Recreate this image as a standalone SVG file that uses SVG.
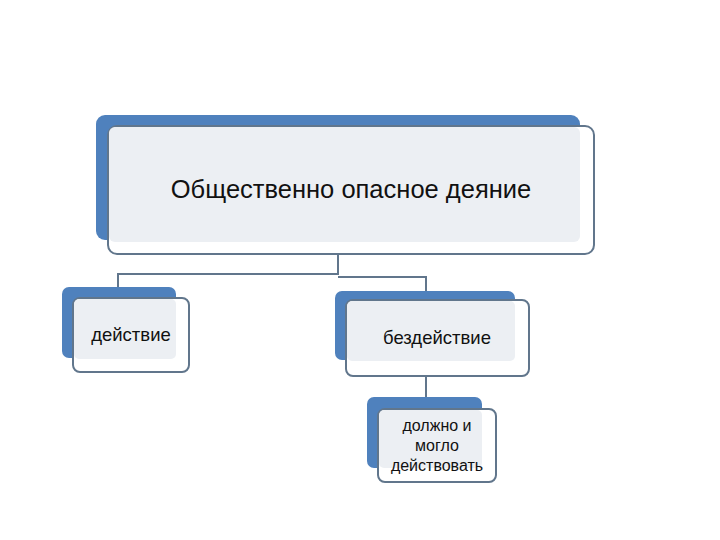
<svg xmlns="http://www.w3.org/2000/svg" width="720" height="540" viewBox="0 0 720 540">
<style>
.back{fill:#4F81BD;}
.front{fill:#FFFFFF;stroke:#61768C;stroke-width:2;}
.inner{fill:#ECEFF3;}
.t{font-family:"Liberation Sans",Arial,sans-serif;fill:#111;text-anchor:middle;}
.conn{fill:none;stroke:#61768C;stroke-width:2;}
</style>
<rect width="720" height="540" fill="#FFFFFF"/>
<g id="connectors">
<path class="conn" d="M338,254 V275 M338,274 H118 V290 M338,277 H426 V300"/>
<path class="conn" d="M426,376 V409"/>
</g>
<g id="node-main">
<rect class="back" x="96" y="115" width="484" height="125" rx="9"/>
<rect class="front" x="108" y="126" width="486" height="128" rx="9"/>
<rect class="inner" x="109" y="127" width="471" height="115" rx="6"/>
<text class="t" x="351" y="198" font-size="25.5">Общественно опасное деяние</text>
</g>
<g id="node-action">
<rect class="back" x="62" y="287" width="114" height="71" rx="7"/>
<rect class="front" x="73" y="298" width="116" height="74" rx="7"/>
<rect class="inner" x="74" y="299" width="102" height="60" rx="5"/>
<text class="t" x="131" y="341" font-size="18.5">действие</text>
</g>
<g id="node-inaction">
<rect class="back" x="335" y="291" width="180" height="69" rx="7"/>
<rect class="front" x="346" y="300" width="183" height="76" rx="7"/>
<rect class="inner" x="347" y="301" width="168" height="60" rx="5"/>
<text class="t" x="437" y="344" font-size="18.5">бездействие</text>
</g>
<g id="node-could">
<rect class="back" x="367" y="397" width="115" height="71" rx="7"/>
<rect class="front" x="378" y="409" width="118" height="73" rx="7"/>
<rect class="inner" x="379" y="410" width="103" height="58" rx="5"/>
<text class="t" x="437" y="431" font-size="16">должно и</text>
<text class="t" x="437" y="451" font-size="16">могло</text>
<text class="t" x="437" y="471" font-size="16">действовать</text>
</g>
</svg>
